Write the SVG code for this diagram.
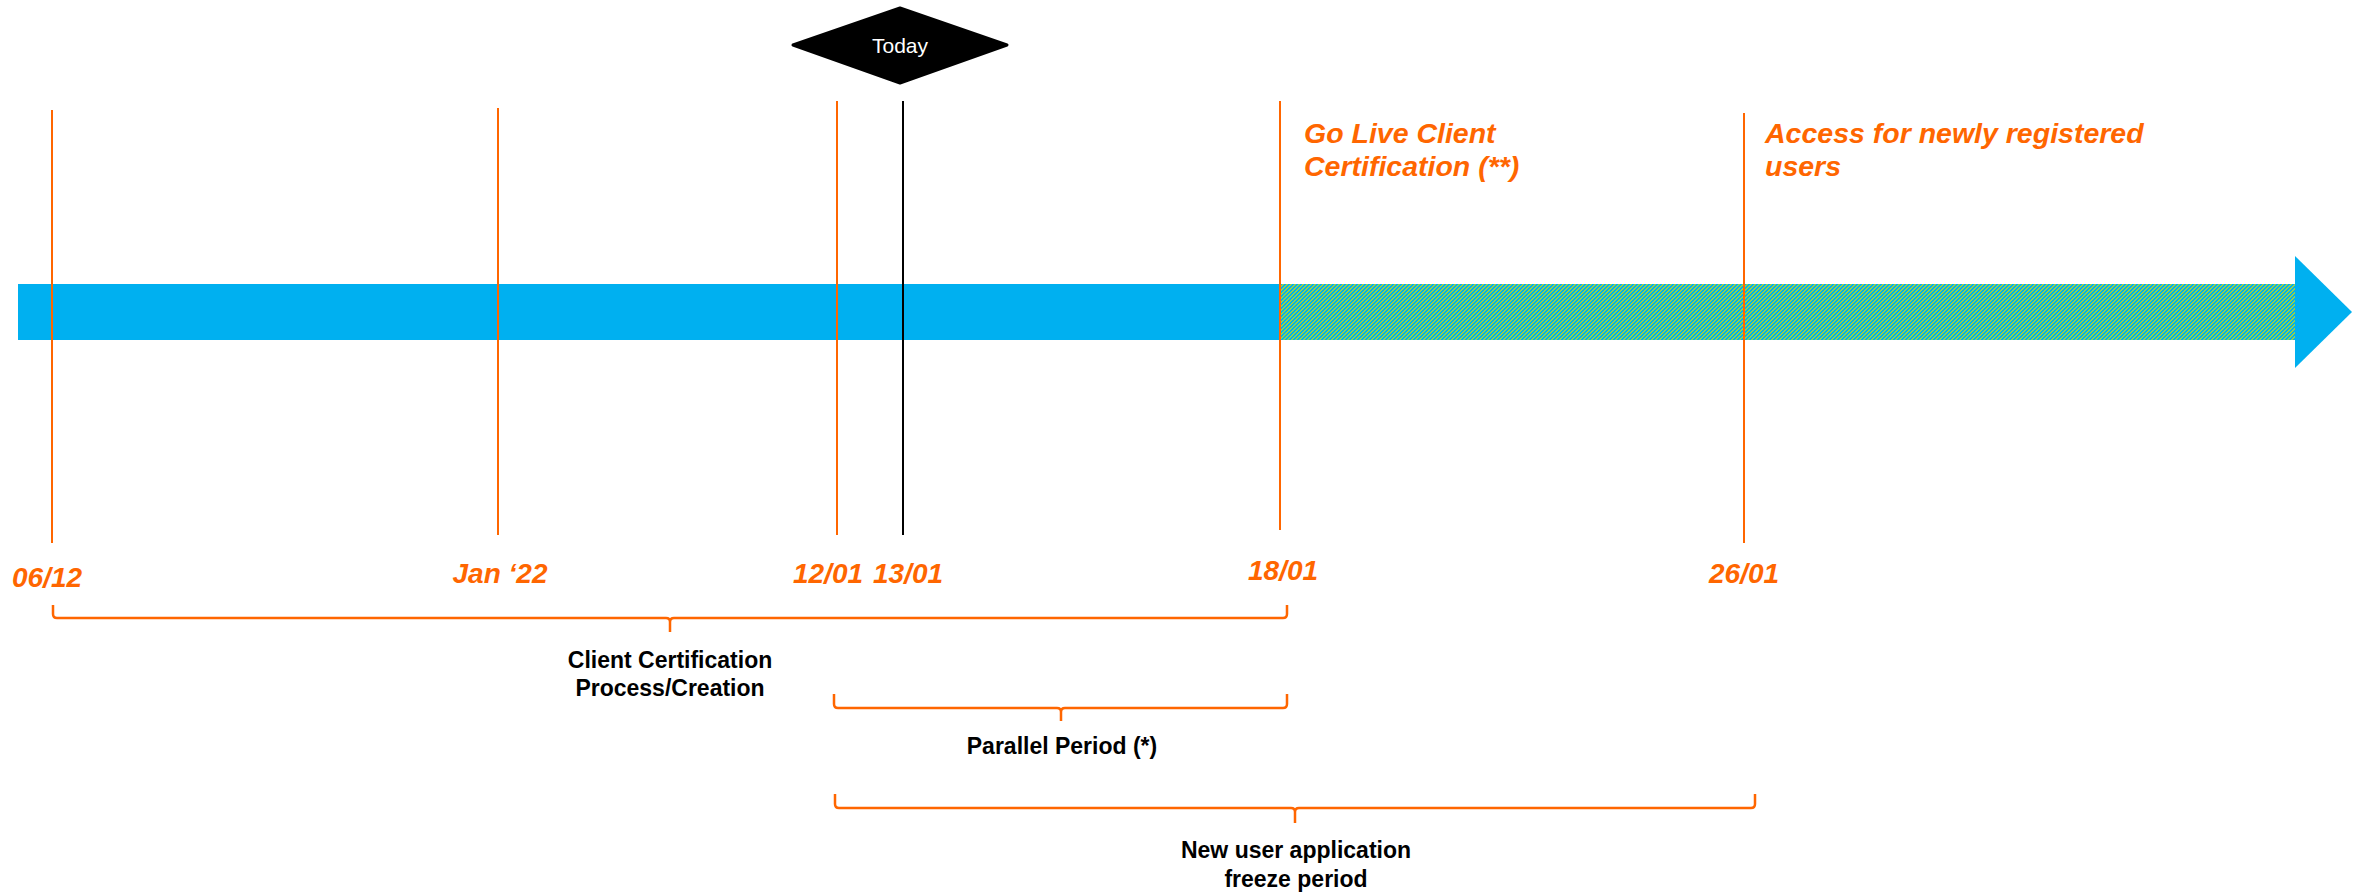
<svg xmlns="http://www.w3.org/2000/svg" width="2361" height="895" viewBox="0 0 2361 895">
<style>
.vl{stroke:#FF6600;stroke-width:2;fill:none}
.br{stroke:#FF6600;stroke-width:2.5;fill:none;stroke-linejoin:round}
.date{font-family:"Liberation Sans",Arial,sans-serif;font-weight:bold;font-style:italic;font-size:28px;fill:#FF6600;text-anchor:middle}
.top{font-family:"Liberation Sans",Arial,sans-serif;font-weight:bold;font-style:italic;font-size:28.5px;fill:#FF6600}
.lbl{font-family:"Liberation Sans",Arial,sans-serif;font-weight:bold;font-size:23px;fill:#000;text-anchor:middle}
.g{fill:#92D050}
</style>
<defs>
<pattern id="hatch" x="0" y="0" width="4" height="4" patternUnits="userSpaceOnUse" shape-rendering="crispEdges">
<rect width="4" height="4" fill="#00B0F0"/>
<rect class="g" x="2" y="0" width="2" height="1"/>
<rect class="g" x="1" y="1" width="2" height="1"/>
<rect class="g" x="0" y="2" width="2" height="1"/>
<rect class="g" x="0" y="3" width="1" height="1"/>
<rect class="g" x="3" y="3" width="1" height="1"/>
</pattern>
</defs>
<g id="timeline-bar">
<rect x="18" y="284" width="1263" height="56" fill="#00B0F0"/>
<rect x="1281" y="284" width="1020" height="56" fill="url(#hatch)"/>
<polygon points="2295,256 2352,312 2295,368" fill="#00B0F0"/>
</g>
<g id="today">
<polygon points="793,45 900,8 1007,45 900,83" fill="#000" stroke="#000" stroke-width="3" stroke-linejoin="round"/>
<text x="900" y="53" font-family="'Liberation Sans',Arial,sans-serif" font-size="21" fill="#fff" text-anchor="middle">Today</text>
</g>
<g id="markers">
<line class="vl" x1="52" y1="110" x2="52" y2="543"/>
<line class="vl" x1="498" y1="108" x2="498" y2="535"/>
<line class="vl" x1="837" y1="101" x2="837" y2="535"/>
<line x1="903" y1="101" x2="903" y2="535" stroke="#000" stroke-width="2"/>
<line class="vl" x1="1280" y1="101" x2="1280" y2="530"/>
<line class="vl" x1="1744" y1="113" x2="1744" y2="543"/>
</g>
<g id="date-labels">
<text class="date" x="47" y="587">06/12</text>
<text class="date" x="500" y="583" font-style="normal">Jan ‘22</text>
<text class="date" x="828" y="583">12/01</text>
<text class="date" x="908" y="583">13/01</text>
<text class="date" x="1283" y="580">18/01</text>
<text class="date" x="1744" y="583">26/01</text>
</g>
<g id="go-live">
<text class="top" x="1304" y="143">Go Live Client</text>
<text class="top" x="1304" y="176">Certification (**)</text>
</g>
<g id="access">
<text class="top" x="1765" y="143">Access for newly registered</text>
<text class="top" x="1765" y="176">users</text>
</g>
<g id="connectors">
<path class="br" d="M53,605 V614 Q53,618 57,618 H666 Q670,618 670,622 V632 M670,622 Q670,618 674,618 H1283 Q1287,618 1287,614 V605"/>
<path class="br" d="M834,694 V704 Q834,708 838,708 H1057 Q1061,708 1061,712 V721 M1061,712 Q1061,708 1065,708 H1283 Q1287,708 1287,704 V694"/>
<path class="br" d="M835,794 V804 Q835,808 839,808 H1291 Q1295,808 1295,812 V823 M1295,812 Q1295,808 1299,808 H1751 Q1755,808 1755,804 V794"/>
</g>
<g id="client-cert">
<text class="lbl" x="670" y="668">Client Certification</text>
<text class="lbl" x="670" y="696">Process/Creation</text>
</g>
<g id="parallel">
<text class="lbl" x="1062" y="754">Parallel Period (*)</text>
</g>
<g id="freeze">
<text class="lbl" x="1296" y="858">New user application</text>
<text class="lbl" x="1296" y="887">freeze period</text>
</g>
</svg>
